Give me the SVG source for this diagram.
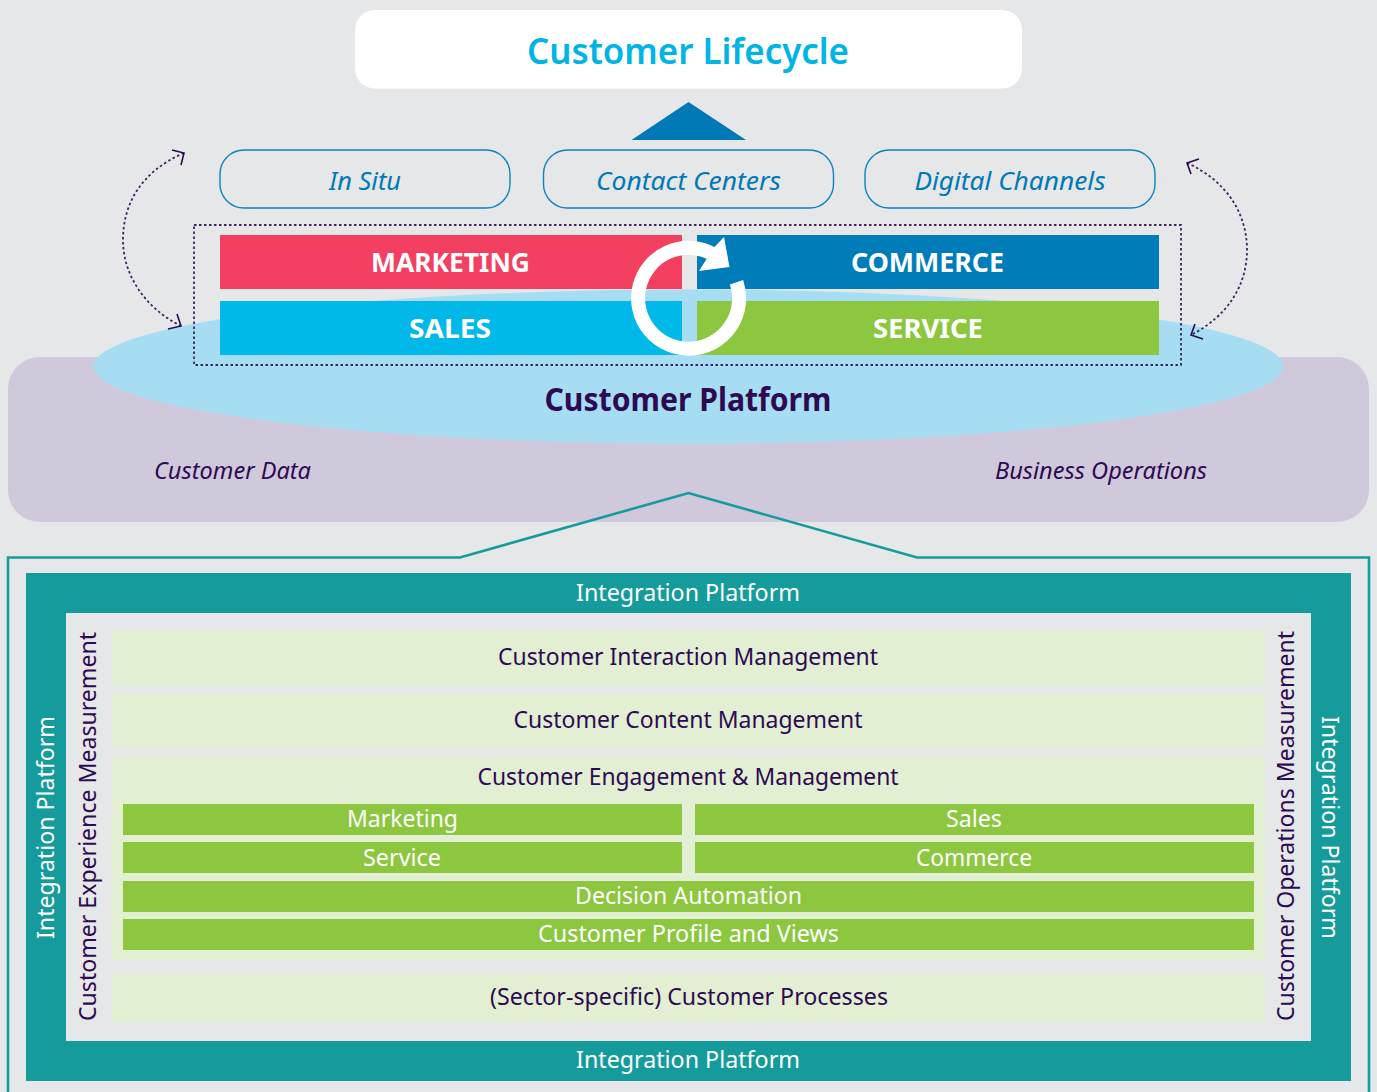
<svg xmlns="http://www.w3.org/2000/svg" width="1377" height="1092" viewBox="0 0 1377 1092">
<style>
text{font-family:"Noto Sans","Open Sans","DejaVu Sans",sans-serif;text-anchor:middle}
.pill{fill:none;stroke:#0a84bd;stroke-width:1.4}
.pt{font-size:26px;font-style:italic;fill:#0079b6}
.cat{font-size:26px;font-weight:700;fill:#fff}
.sub{font-size:23px;font-style:italic;fill:#2d0a52}
.w{font-size:24px;fill:#fff}
.d{font-size:24px;fill:#2d0a52}
.row{fill:#e2efd2}
.bar{fill:#8dc73f}
.dash{fill:none;stroke:#3f2560;stroke-width:1.8;stroke-dasharray:2.5 2.5}
.head{fill:none;stroke:#2d0a52;stroke-width:1.6}
</style>
<rect width="1377" height="1092" fill="#e5e7e9"/>
<g id="data-base"><rect x="8" y="357" width="1361" height="165" rx="32" fill="#d0c9dc"/>
<text class="sub" x="232.500" y="479" textLength="157" lengthAdjust="spacingAndGlyphs">Customer Data</text>
<text class="sub" x="1101" y="479" textLength="212" lengthAdjust="spacingAndGlyphs">Business Operations</text></g>
<g id="platform"><ellipse cx="688.500" cy="366.500" rx="595" ry="77" fill="#a6ddf3"/>
<text x="688" y="411" font-size="32" font-weight="700" fill="#2d0a52" textLength="287" lengthAdjust="spacingAndGlyphs">Customer Platform</text></g>
<g id="lifecycle"><rect x="355" y="10" width="667" height="78.500" rx="20" fill="#fff"/>
<text x="688" y="64" font-size="36" font-weight="600" fill="#00b5e6" textLength="322" lengthAdjust="spacingAndGlyphs">Customer Lifecycle</text></g>
<g id="triangle"><polygon points="631.500,140 688.500,102 746,140" fill="#0079b6"/></g>
<g id="in-situ"><rect class="pill" x="220" y="150" width="290" height="58" rx="24"/><text class="pt" x="365" y="190" textLength="72" lengthAdjust="spacingAndGlyphs">In Situ</text></g>
<g id="contact-centers"><rect class="pill" x="543.500" y="150" width="290" height="58" rx="24"/><text class="pt" x="688.500" y="190" textLength="185" lengthAdjust="spacingAndGlyphs">Contact Centers</text></g>
<g id="digital-channels"><rect class="pill" x="865" y="150" width="290" height="58" rx="24"/><text class="pt" x="1010" y="190" textLength="191" lengthAdjust="spacingAndGlyphs">Digital Channels</text></g>
<g id="marketing"><rect x="220" y="235" width="462" height="54" fill="#f44060"/><text class="cat" x="450.500" y="272" textLength="159" lengthAdjust="spacingAndGlyphs">MARKETING</text></g>
<g id="commerce"><rect x="697" y="235" width="462" height="54" fill="#007cb8"/><text class="cat" x="927.500" y="272" textLength="153" lengthAdjust="spacingAndGlyphs">COMMERCE</text></g>
<g id="sales"><rect x="220" y="301" width="462" height="54" fill="#00b9e8"/><text class="cat" x="450" y="338" textLength="82" lengthAdjust="spacingAndGlyphs">SALES</text></g>
<g id="service"><rect x="697" y="301" width="462" height="54" fill="#8dc73f"/><text class="cat" x="928" y="338" textLength="110" lengthAdjust="spacingAndGlyphs">SERVICE</text></g>
<g id="cycle"><path d="M736.500,282.200A50.500 50.500 0 1 1 713.500,254.300" fill="none" stroke="#fff" stroke-width="14"/>
<polygon points="729.500,267 724,237 713.500,248 699,271" fill="#fff"/></g>
<g id="scope"><rect class="dash" x="194" y="225" width="987" height="140"/></g>
<g id="connectors">
<path class="dash" d="M184,153C140,172 123,205 123,240C123,275 145,308 181,326"/>
<path class="head" d="M172,150L184,153L181,165M168,329L181,326L177,314"/>
<path class="dash" d="M1187,163C1225,180 1247,212 1247,250C1247,285 1228,316 1191,335"/>
<path class="head" d="M1199,159L1187,163L1191,174M1203,339L1191,335L1195,324"/>
<path d="M1369,1092V557.500H917L688.500,493L460,557.500H8V1092" fill="none" stroke="#169b9d" stroke-width="2.600"/>
</g>
<g id="integration-platform"><path d="M26,573H1351V1081H26ZM66,613V1041H1311V613Z" fill="#169b9d" fill-rule="evenodd"/>
<text class="w" x="688" y="601" textLength="224" lengthAdjust="spacingAndGlyphs">Integration Platform</text>
<text class="w" x="688" y="1068" textLength="224" lengthAdjust="spacingAndGlyphs">Integration Platform</text>
<text class="w" transform="translate(53.500,827.500) rotate(-90)" textLength="223" lengthAdjust="spacingAndGlyphs">Integration Platform</text>
<text class="w" transform="translate(1322,827.500) rotate(90)" textLength="223" lengthAdjust="spacingAndGlyphs">Integration Platform</text></g>
<g id="measurement-left"><text class="d" transform="translate(96,826.500) rotate(-90)" textLength="389" lengthAdjust="spacingAndGlyphs">Customer Experience Measurement</text></g>
<g id="measurement-right"><text class="d" transform="translate(1293.500,826) rotate(-90)" textLength="390" lengthAdjust="spacingAndGlyphs">Customer Operations Measurement</text></g>
<g id="interaction"><rect class="row" x="112" y="631" width="1153" height="54"/><text class="d" x="688" y="665" textLength="380" lengthAdjust="spacingAndGlyphs">Customer Interaction Management</text></g>
<g id="content"><rect class="row" x="112" y="694" width="1153" height="53"/><text class="d" x="688" y="728" textLength="349" lengthAdjust="spacingAndGlyphs">Customer Content Management</text></g>
<g id="engagement"><rect class="row" x="112" y="757" width="1153" height="203"/><text class="d" x="688" y="785" textLength="421" lengthAdjust="spacingAndGlyphs">Customer Engagement &amp; Management</text></g>
<g id="b-marketing"><rect class="bar" x="123" y="804" width="559" height="31"/><text class="w" x="402.500" y="827" textLength="111" lengthAdjust="spacingAndGlyphs">Marketing</text></g>
<g id="b-sales"><rect class="bar" x="695" y="804" width="559" height="31"/><text class="w" x="974" y="827" textLength="56" lengthAdjust="spacingAndGlyphs">Sales</text></g>
<g id="b-service"><rect class="bar" x="123" y="842" width="559" height="31"/><text class="w" x="402" y="866" textLength="78" lengthAdjust="spacingAndGlyphs">Service</text></g>
<g id="b-commerce"><rect class="bar" x="695" y="842" width="559" height="31"/><text class="w" x="974" y="866" textLength="116" lengthAdjust="spacingAndGlyphs">Commerce</text></g>
<g id="b-decision"><rect class="bar" x="123" y="881" width="1131" height="31"/><text class="w" x="688.500" y="904" textLength="227" lengthAdjust="spacingAndGlyphs">Decision Automation</text></g>
<g id="b-profile"><rect class="bar" x="123" y="919" width="1131" height="31"/><text class="w" x="688.500" y="942" textLength="301" lengthAdjust="spacingAndGlyphs">Customer Profile and Views</text></g>
<g id="processes"><rect class="row" x="112" y="973" width="1153" height="49"/><text class="d" x="689" y="1005" textLength="398" lengthAdjust="spacingAndGlyphs">(Sector-specific) Customer Processes</text></g>
</svg>
